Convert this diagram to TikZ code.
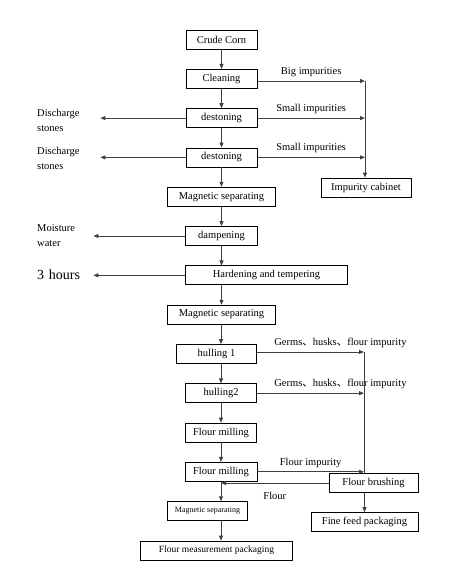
\documentclass[tikz,border=0pt]{standalone}
\usepackage{fontspec}
\setmainfont{Liberation Serif}
\newfontfamily\cjk{Noto Sans CJK SC}
\usetikzlibrary{arrows.meta,positioning}
\definecolor{linegray}{HTML}{404040}
\newcommand{\dun}{{\cjk 、}}

\begin{document}
\begin{tikzpicture}[
  x=1pt, y={(0pt,-1pt)},
  node distance=19.6pt,
  box/.style={draw, line width=0.7pt, minimum height=19pt, inner sep=1pt, align=center, font=\fontsize{10.5}{12}\selectfont},
  lbl/.style={inner sep=1pt, align=left, font=\fontsize{10.5}{15}\selectfont},
  arr/.style={-{Triangle[length=5pt, width=4pt]}, line width=0.9pt, draw=linegray},
  ln/.style={line width=0.9pt, draw=linegray},
]
  \useasboundingbox (0,0) rectangle (449,569);

  % Main column
  \node[box, minimum width=71pt] (corn) at (221.5,39.5) {Crude Corn};
  \node[box, minimum width=71pt, below=of corn] (clean) {Cleaning};
  \node[box, minimum width=71pt, below=of clean] (dest1) {destoning};
  \node[box, minimum width=71pt, below=of dest1] (dest2) {destoning};
  \node[box, minimum width=108pt, below=of dest2] (mag1) {Magnetic separating};
  \node[box, minimum width=72pt, below=of mag1] (damp) {dampening};
  \node[box, minimum width=162pt, below=of damp, xshift=45pt] (hard) {Hardening and tempering};
  \node[box, minimum width=108pt, below=of hard, xshift=-45pt] (mag2) {Magnetic separating};
  \node[box, minimum width=80pt, below=of mag2, xshift=-5pt] (hull1) {hulling 1};
  \node[box, minimum width=71pt, below=of hull1, xshift=4.5pt] (hull2) {hulling2};
  \node[box, minimum width=71pt, below=of hull2] (mill1) {Flour milling};
  \node[box, minimum width=72pt, below=of mill1] (mill2) {Flour milling};
  \node[box, minimum width=80pt, below=of mill2, xshift=-13.5pt, font=\fontsize{8}{10}\selectfont] (mag3) {Magnetic separating};
  \node[box, minimum width=152pt, below=of mag3, xshift=9pt, font=\fontsize{9.5}{11}\selectfont] (pack) {Flour measurement packaging};

  % Side boxes
  \node[box, minimum width=90pt] (cabinet) at (366,187.5) {Impurity cabinet};
  \node[box, minimum width=89pt] (brush) at (373.5,483) {Flour brushing};
  \node[box, minimum width=107pt] (feed) at (364.5,522) {Fine feed packaging};

  % Left labels
  \node[lbl, anchor=west, text width=62pt] (dis1) at (36,120) {Discharge\\stones};
  \node[lbl, anchor=west, text width=62pt] (dis2) at (36,158) {Discharge\\stones};
  \node[lbl, anchor=west, text width=55pt] (moist) at (36,236) {Moisture\\water};
  \node[lbl, anchor=west, text width=55pt, font=\fontsize{14}{16}\selectfont] (hours) at (36,275) {3 hours};

  % Bus coordinates
  \coordinate (bus1) at (365,81);
  \coordinate (bus2) at (364,352);

  % Main flow
  \draw[arr] (corn) -- (clean);
  \draw[arr] (clean) -- (dest1);
  \draw[arr] (dest1) -- (dest2);
  \draw[arr] (dest2) -- (dest2 |- mag1.north);
  \draw[arr] (mag1) -- (mag1 |- damp.north);
  \draw[arr] (damp) -- (damp |- hard.north);
  \draw[arr] (mag2 |- hard.south) -- (mag2);
  \draw[arr] (hull2 |- mag2.south) -- (hull2 |- hull1.north);
  \draw[arr] (hull2 |- hull1.south) -- (hull2);
  \draw[arr] (hull2) -- (mill1);
  \draw[arr] (mill1) -- (mill2);
  \draw[arr] (mill2) -- (mill2 |- mag3.north);
  \draw[arr] (mill2 |- mag3.south) -- (mill2 |- pack.north);

  % Impurities to cabinet
  \draw[arr] (clean.east |- bus1) -- node[lbl, above=3pt] (big) {Big impurities} (bus1);
  \draw[arr] (dest1.east) -- node[lbl, above=3pt] (small1) {Small impurities} (dest1 -| bus1);
  \draw[arr] (dest2.east) -- node[lbl, above=3pt] (small2) {Small impurities} (dest2 -| bus1);
  \draw[arr] (bus1) -- (bus1 |- cabinet.north);

  % Discharge to the left
  \draw[arr] (dest1.west) -- (dest1 -| dis1.east);
  \draw[arr] (dest2.west) -- (dest2 -| dis2.east);
  \draw[arr] (damp.west) -- (damp -| moist.east);
  \draw[arr] (hard.west) -- (hard -| moist.east);

  % Hulling and milling by-products
  \draw[arr] (hull1.east |- bus2) -- node[lbl, pos=0.15, above=3pt, anchor=south west] (germ1) {Germs\dun husks\dun flour impurity} (bus2);
  \draw[arr] (hull2.east) -- node[lbl, pos=0.15, above=3pt, anchor=south west] (germ2) {Germs\dun husks\dun flour impurity} (hull2 -| bus2);
  \draw[arr] (mill2.east) -- node[lbl, above=3pt] (fimp) {Flour impurity} (mill2 -| bus2);
  \draw[ln] (bus2) -- (bus2 |- brush.north);
  \draw[arr] (brush.west) -- node[lbl, below=8pt] (flour) {Flour} (brush.west -| mill2);
  \draw[arr] (feed |- brush.south) -- (feed);
\end{tikzpicture}
\end{document}
